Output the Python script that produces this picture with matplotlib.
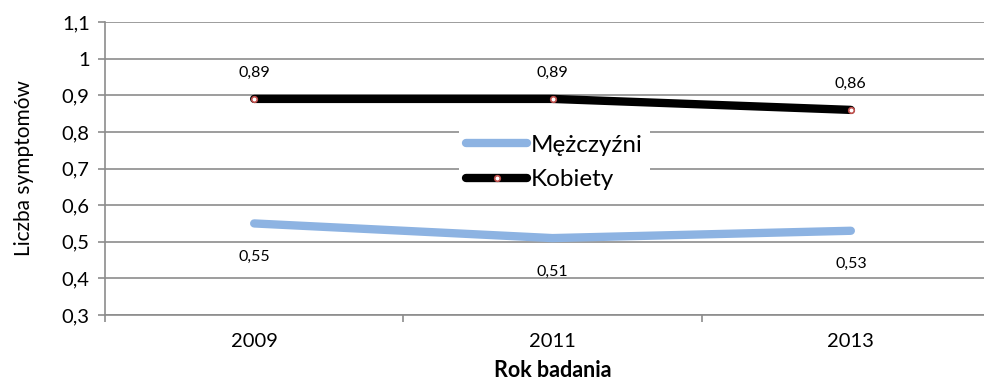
import matplotlib
matplotlib.use('Agg')
import matplotlib.pyplot as plt
import numpy as np

plt.rcParams['font.family'] = ['Lato', 'DejaVu Sans']

years = ['2009', '2011', '2013']
men = [0.55, 0.51, 0.53]
women = [0.89, 0.89, 0.86]
yticks = [0.3, 0.4, 0.5, 0.6, 0.7, 0.8, 0.9, 1.0, 1.1]

grey = '#8c8c8c'

fig = plt.figure(figsize=(9.84, 3.82), dpi=100)
ax = fig.add_axes([105 / 984, 67 / 382, 895 / 984, 293 / 382])

x = np.arange(len(years))
ax.plot(x, men, color='#8db3e2', lw=6, solid_capstyle='round', label='Mężczyźni', zorder=3)
ax.plot(x, women, color='black', lw=6, solid_capstyle='round', marker='o', ms=4,
        mfc='white', mec='#c0504d', mew=1.2, label='Kobiety', zorder=4)

# etykiety danych
for xi, v in zip(x, men):
    ax.annotate(('%.2f' % v).replace('.', ','), (xi, v), xytext=(0, -24),
                textcoords='offset points', ha='center', va='center', fontsize=11.5)
for xi, v in zip(x, women):
    ax.annotate(('%.2f' % v).replace('.', ','), (xi, v), xytext=(0, 19),
                textcoords='offset points', ha='center', va='center', fontsize=11.5)

ax.set_xlim(-0.5, 2.5)
ax.set_ylim(0.3, 1.1)
ax.set_yticks(yticks)
ax.set_yticklabels([('%g' % t).replace('.', ',') for t in yticks], fontsize=14.5)
ax.set_xticks(x)
ax.set_xticklabels(years, fontsize=14.5)
ax.set_xticks([-0.5, 0.5, 1.5, 2.5], minor=True)
ax.tick_params(axis='x', which='major', length=0, pad=13)
ax.tick_params(axis='x', which='minor', length=5, color=grey, width=1.2)
ax.tick_params(axis='y', length=5, color=grey, width=1.2, pad=6)

ax.grid(axis='y', color=grey, lw=1.2)
ax.set_axisbelow(True)
for s in ['top', 'right']:
    ax.spines[s].set_visible(False)
ax.spines['left'].set_color(grey)
ax.spines['left'].set_linewidth(1.2)
ax.spines['bottom'].set_color(grey)
ax.spines['bottom'].set_linewidth(1.2)

ax.set_ylabel('Liczba symptomów', fontsize=15, labelpad=20)
ax.set_xlabel('Rok badania', fontsize=15.5, fontweight='bold', labelpad=7)

leg = ax.legend(loc='center', bbox_to_anchor=(0.502, 0.52), fontsize=17.5, frameon=True,
                fancybox=False, edgecolor='none', framealpha=1, handlelength=2.5,
                handletextpad=0.15, borderpad=0.3, labelspacing=0.55)

fig.savefig('out.png', dpi=100)
